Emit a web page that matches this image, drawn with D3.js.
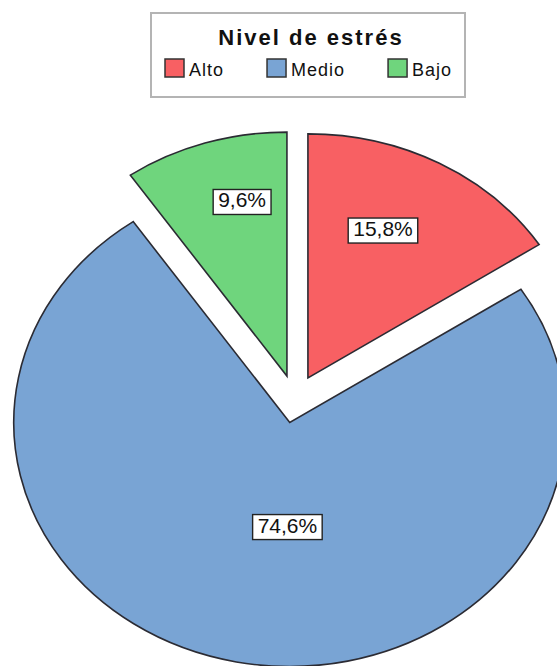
<!DOCTYPE html>
<html>
<head>
<meta charset="utf-8">
<script src="https://cdn.jsdelivr.net/npm/d3@7/dist/d3.min.js"></script>
<style>
  body { margin: 0; background: #fff; }
  text { font-family: Arial, "Liberation Sans", sans-serif; fill: #111; }
</style>
</head>
<body>
<div id="chart"></div>
<script>
// Data
var categories = ["Alto", "Medio", "Bajo"];
var percents = [15.8, 74.6, 9.6];
var colors = ["#f86063", "#79a4d4", "#6fd57d"];
var legendTitle = "Nivel de estrés";

// where each label sits inside its slice (fraction of radius, angle shift in degrees)
var labelFrac = [0.67, 0.42, 0.74];
var labelShift = [-4.5, -10, 4.6];

var width = 557,
    height = 666;

var svg = d3.select("#chart")
            .append("svg")
            .attr("width", width)
            .attr("height", height);

// Pie geometry (the original pie is slightly wider than tall)
var cx = 295, cy = 399,
    ry = 244, rx = 276,
    sx = rx / ry,
    explode = 24;

var pie = d3.pie()
            .sort(null)
            .value(function(d) { return d; });

var arcs = pie(percents);

var arc = d3.arc()
            .innerRadius(0)
            .outerRadius(ry);

var plot = svg.append("g")
              .attr("transform", "translate(" + cx + "," + cy + ") scale(" + sx + ",1)");

function mid(d) { return (d.startAngle + d.endAngle) / 2; }

plot.selectAll("path")
    .data(arcs)
    .enter()
    .append("path")
    .attr("d", arc)
    .attr("transform", function(d) {
        var a = mid(d);
        return "translate(" + (Math.sin(a) * explode) + "," + (-Math.cos(a) * explode) + ")";
    })
    .attr("fill", function(d, i) { return colors[i]; })
    .attr("stroke", "#2b2b33")
    .attr("stroke-width", 1.6)
    .attr("stroke-linejoin", "miter")
    .attr("vector-effect", "non-scaling-stroke");

// Percent labels in white boxes
var labels = svg.append("g")
                .selectAll("g")
                .data(arcs)
                .enter()
                .append("g")
                .attr("transform", function(d, i) {
                    var a = mid(d),
                        la = a + labelShift[i] * Math.PI / 180,
                        ax = cx + Math.sin(a) * explode * sx,
                        ay = cy - Math.cos(a) * explode,
                        r = labelFrac[i] * ry;
                    return "translate(" + (ax + Math.sin(la) * r * sx) + "," + (ay - Math.cos(la) * r) + ")";
                });

labels.append("text")
      .attr("text-anchor", "middle")
      .attr("dy", "0.36em")
      .style("font-size", "21px")
      .text(function(d) { return d3.format(".1f")(d.data).replace(".", ",") + "%"; })
      .each(function() {
          var bb = this.getBBox();
          d3.select(this.parentNode)
            .insert("rect", "text")
            .attr("x", bb.x - 5)
            .attr("y", bb.y + 1)
            .attr("width", bb.width + 10)
            .attr("height", bb.height + 2)
            .attr("fill", "#fff")
            .attr("stroke", "#222")
            .attr("stroke-width", 1.4);
      });

// Legend
var legend = svg.append("g");

legend.append("rect")
      .attr("x", 151)
      .attr("y", 13)
      .attr("width", 314)
      .attr("height", 84)
      .attr("fill", "#fff")
      .attr("stroke", "#b4b4b4")
      .attr("stroke-width", 2);

legend.append("text")
      .attr("x", 311)
      .attr("y", 45)
      .attr("text-anchor", "middle")
      .style("font-size", "22px")
      .style("font-weight", "bold")
      .style("letter-spacing", "2px")
      .text(legendTitle);

var items = legend.selectAll(".item")
                  .data(categories)
                  .enter()
                  .append("g")
                  .attr("class", "item");

items.append("rect")
     .attr("width", 19)
     .attr("height", 18)
     .attr("fill", function(d, i) { return colors[i]; })
     .attr("stroke", "#333")
     .attr("stroke-width", 1.5);

items.append("text")
     .attr("x", 24)
     .attr("y", 17)
     .style("font-size", "18px")
     .style("letter-spacing", "1px")
     .text(function(d) { return d; });

// lay the items out one after another
var xPos = 165;
items.each(function() {
    var g = d3.select(this);
    g.attr("transform", "translate(" + xPos + ",59)");
    xPos += 24 + g.select("text").node().getComputedTextLength() + 43;
});
</script>
</body>
</html>
